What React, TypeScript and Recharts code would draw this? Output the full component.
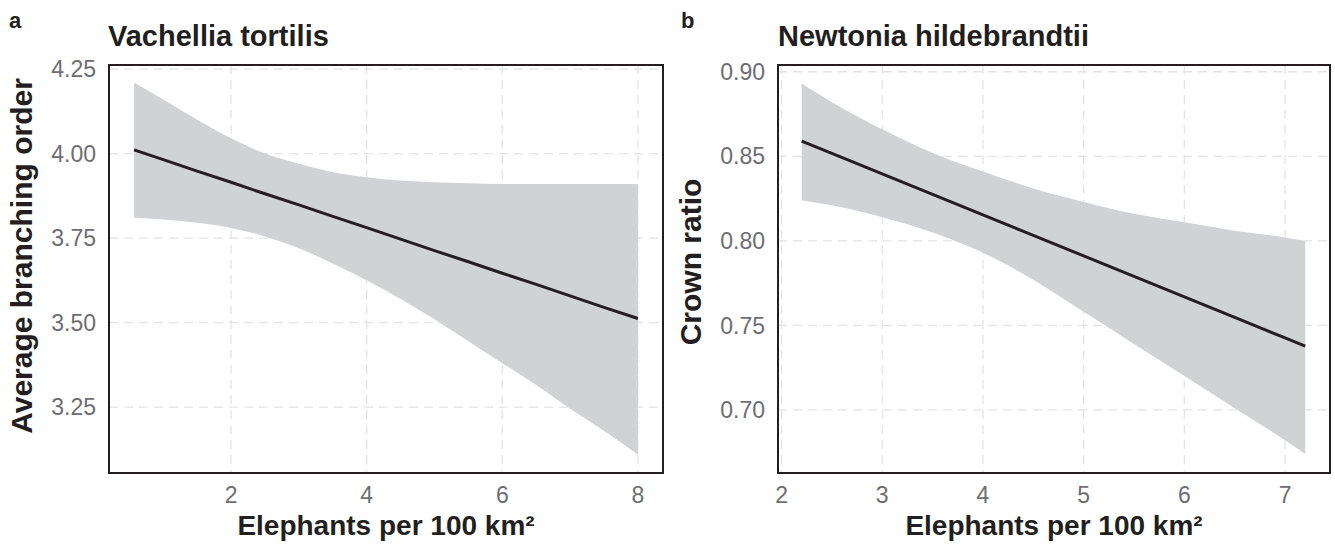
import { ComposedChart, Area, Line, XAxis, YAxis, CartesianGrid, ReferenceArea } from 'recharts'

const FONT = '"Liberation Sans", Arial, Helvetica, sans-serif'
const INK = '#231f20'
const TICK = '#6d6e71'
const BAND = '#d1d2d4'
const GRID = '#e4e4e4'

// panel a: Vachellia tortilis
const densityA = [0.57, 1, 1.5, 2, 2.5, 3, 3.5, 4, 4.5, 5, 5.5, 6, 6.5, 7, 7.5, 8]
const fitA = [4.011, 3.982, 3.948, 3.915, 3.881, 3.848, 3.814, 3.781, 3.747, 3.713, 3.68, 3.646, 3.613, 3.579, 3.545, 3.512]
const lowerA = [3.81, 3.805, 3.795, 3.78, 3.755, 3.72, 3.675, 3.625, 3.57, 3.51, 3.445, 3.38, 3.315, 3.245, 3.18, 3.11]
const upperA = [4.21, 4.16, 4.1, 4.045, 4.0, 3.97, 3.945, 3.93, 3.92, 3.915, 3.912, 3.91, 3.91, 3.91, 3.91, 3.91]
const xTicksA = [2, 4, 6, 8]
const yTicksA = [3.25, 3.5, 3.75, 4.0, 4.25]

// panel b: Newtonia hildebrandtii
const densityB = [2.2, 2.5, 3, 3.5, 4, 4.5, 5, 5.5, 6, 6.5, 7, 7.2]
const fitB = [0.859, 0.8517, 0.8396, 0.8275, 0.8153, 0.8032, 0.7911, 0.779, 0.7668, 0.7547, 0.7426, 0.7377]
const lowerB = [0.824, 0.821, 0.814, 0.805, 0.793, 0.777, 0.758, 0.739, 0.72, 0.701, 0.682, 0.674]
const upperB = [0.893, 0.882, 0.866, 0.852, 0.841, 0.831, 0.823, 0.816, 0.811, 0.806, 0.802, 0.8]
const xTicksB = [2, 3, 4, 5, 6, 7]
const yTicksB = [0.7, 0.75, 0.8, 0.85, 0.9]

const xLabel = 'Elephants per 100 km²'

interface PanelProps {
  left: number
  width: number
  yAxisWidth: number
  x: number[]
  fit: number[]
  lower: number[]
  upper: number[]
  xDomain: [number, number]
  yDomain: [number, number]
  xTicks: number[]
  yTicks: number[]
}

function Panel(p: PanelProps) {
  const data = p.x.map((x, i) => ({ x, fit: p.fit[i], band: [p.lower[i], p.upper[i]] }))
  return (
    <div style={{ position: 'absolute', left: p.left, top: 0 }}>
      <ComposedChart width={p.width} height={547} data={data} margin={{ top: 65, right: 5, bottom: 0, left: 0 }}>
        <CartesianGrid stroke={GRID} strokeWidth={1.3} strokeDasharray="9 6" />
        <XAxis
          type="number"
          dataKey="x"
          domain={p.xDomain}
          ticks={p.xTicks}
          allowDataOverflow
          axisLine={false}
          tickLine={false}
          tickSize={0}
          tickMargin={14}
          height={74}
          tick={{ fontSize: 23, fill: TICK, fontFamily: FONT }}
          label={{ value: xLabel, position: 'insideBottom', offset: 12, fontSize: 28, fontWeight: 700, fill: INK, fontFamily: FONT }}
        />
        <YAxis
          type="number"
          domain={p.yDomain}
          ticks={p.yTicks}
          allowDataOverflow
          axisLine={false}
          tickLine={false}
          tickSize={0}
          tickMargin={13}
          width={p.yAxisWidth}
          tickFormatter={(v: number) => v.toFixed(2)}
          tick={{ fontSize: 23, fill: TICK, fontFamily: FONT }}
        />
        <Area dataKey="band" type="monotone" fill={BAND} fillOpacity={1} stroke="none" isAnimationActive={false} />
        <Line dataKey="fit" type="linear" stroke={INK} strokeWidth={3} dot={false} activeDot={false} isAnimationActive={false} />
        <ReferenceArea
          x1={p.xDomain[0]}
          x2={p.xDomain[1]}
          y1={p.yDomain[0]}
          y2={p.yDomain[1]}
          fill="none"
          stroke={INK}
          strokeWidth={2}
          ifOverflow="visible"
        />
      </ComposedChart>
    </div>
  )
}

export default function App() {
  return (
    <div style={{ position: 'absolute', left: 0, top: 0, width: 1335, height: 547, background: '#fff', fontFamily: FONT }}>
      <Panel
        left={0}
        width={668}
        yAxisWidth={109}
        x={densityA}
        fit={fitA}
        lower={lowerA}
        upper={upperA}
        xDomain={[0.2, 8.37]}
        yDomain={[3.055, 4.262]}
        xTicks={xTicksA}
        yTicks={yTicksA}
      />
      <Panel
        left={668}
        width={667}
        yAxisWidth={110}
        x={densityB}
        fit={fitB}
        lower={lowerB}
        upper={upperB}
        xDomain={[1.965, 7.446]}
        yDomain={[0.6627, 0.904]}
        xTicks={xTicksB}
        yTicks={yTicksB}
      />
      <svg width={1335} height={547} style={{ position: 'absolute', left: 0, top: 0, pointerEvents: 'none' }}>
        <g fontFamily={FONT} fontWeight={700} fill={INK}>
          <text x={9} y={28} fontSize={22}>a</text>
          <text x={108} y={46} fontSize={29}>Vachellia tortilis</text>
          <text x={681} y={28} fontSize={22}>b</text>
          <text x={778} y={46} fontSize={29}>Newtonia hildebrandtii</text>
          <text x={0} y={0} fontSize={30} textAnchor="middle" transform="translate(32 256) rotate(-90)">
            Average branching order
          </text>
          <text x={0} y={0} fontSize={30} textAnchor="middle" transform="translate(701 262) rotate(-90)">
            Crown ratio
          </text>
        </g>
      </svg>
    </div>
  )
}
